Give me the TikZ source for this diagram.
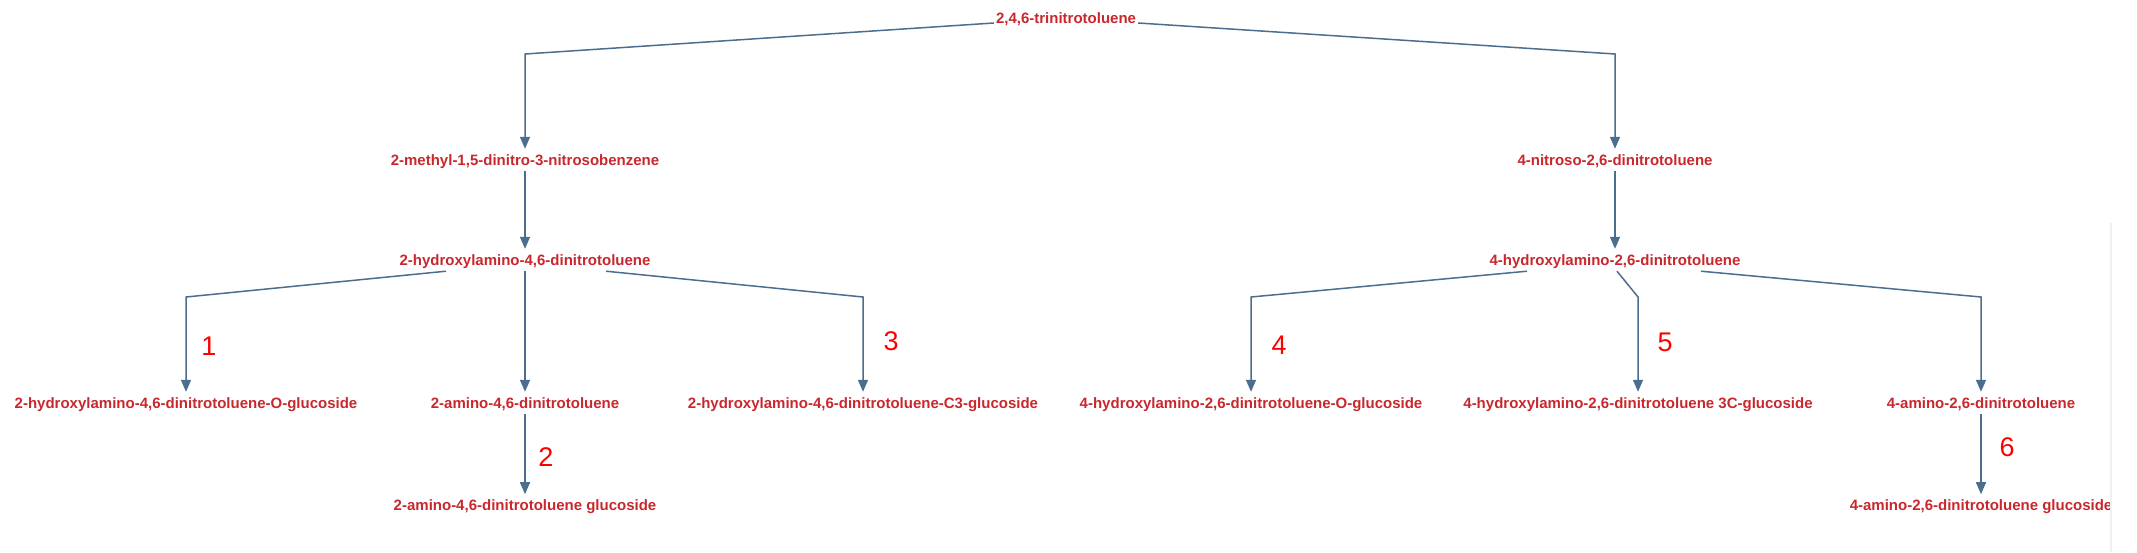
\documentclass[tikz,border=0pt]{standalone}
\usepackage{fontspec}
\setmainfont{Liberation Sans}
\usepackage{xcolor}
\usetikzlibrary{arrows.meta,positioning}

\definecolor{chemred}{RGB}{200,40,45}
\definecolor{linkblue}{RGB}{75,110,142}

\begin{document}
\begin{tikzpicture}[
    x=1pt, y=-1pt,
    node distance=80pt,
    chem/.style={inner xsep=2pt, inner ysep=4pt, text height=12pt, text depth=2pt, text=chemred, font=\fontsize{15}{15}\selectfont\bfseries},
    num/.style={inner sep=0pt, text=red, font=\fontsize{27}{27}\selectfont},
    arr/.style={-{Triangle[length=12pt, width=10pt]}, line width=1.5pt, draw=linkblue}
]
    \useasboundingbox (0,0) rectangle (2137,552);

    \node [chem] (tnt) at (1066,18) {2,4,6-trinitrotoluene};
    \node [chem] (mnb) at (525,160) {2-methyl-1,5-dinitro-3-nitrosobenzene};
    \node [chem] (ndt) at (1615,160) {4-nitroso-2,6-dinitrotoluene};
    \node [chem] (hadt2) at (525,260) {2-hydroxylamino-4,6-dinitrotoluene};
    \node [chem] (hadt4) at (1615,260) {4-hydroxylamino-2,6-dinitrotoluene};
    \node [chem] (og2) at (186,403) {2-hydroxylamino-4,6-dinitrotoluene-O-glucoside};
    \node [chem] (adt2) at (525,403) {2-amino-4,6-dinitrotoluene};
    \node [chem] (cg2) at (863,403) {2-hydroxylamino-4,6-dinitrotoluene-C3-glucoside};
    \node [chem] (og4) at (1251,403) {4-hydroxylamino-2,6-dinitrotoluene-O-glucoside};
    \node [chem] (cg4) at (1638,403) {4-hydroxylamino-2,6-dinitrotoluene 3C-glucoside};
    \node [chem] (adt4) at (1981,403) {4-amino-2,6-dinitrotoluene};
    \node [chem, below=of adt2] (ag2) {2-amino-4,6-dinitrotoluene glucoside};
    \node [chem, below=of adt4] (ag4) {4-amino-2,6-dinitrotoluene glucoside};

    \node [num] (l1) at (209,346) {1};
    \node [num] (l2) at (546,457) {2};
    \node [num] (l3) at (891,341) {3};
    \node [num] (l4) at (1279,345) {4};
    \node [num] (l5) at (1665,342) {5};
    \node [num] (l6) at (2007,447) {6};

    \draw [arr] (tnt.base west) -- (mnb.north |- 0,54) -- (mnb);
    \draw [arr] (tnt.base east) -- (ndt.north |- 0,54) -- (ndt);
    \draw [arr] (mnb) -- (hadt2);
    \draw [arr] (ndt) -- (hadt4);
    \draw [arr] ([xshift=-79pt]hadt2.south) -- (og2.north |- 0,297) -- (og2);
    \draw [arr] (hadt2) -- (adt2);
    \draw [arr] ([xshift=81pt]hadt2.south) -- (cg2.north |- 0,297) -- (cg2);
    \draw [arr] ([xshift=-88pt]hadt4.south) -- (og4.north |- 0,297) -- (og4);
    \draw [arr] ([xshift=2pt]hadt4.south) -- (cg4.north |- 0,297) -- (cg4);
    \draw [arr] ([xshift=86pt]hadt4.south) -- (adt4.north |- 0,297) -- (adt4);
    \draw [arr] (adt2) -- (ag2);
    \draw [arr] (adt4) -- (ag4);

    \draw [gray!12, line width=2pt] (2111,223) -- (2111,552);
\end{tikzpicture}
\end{document}
